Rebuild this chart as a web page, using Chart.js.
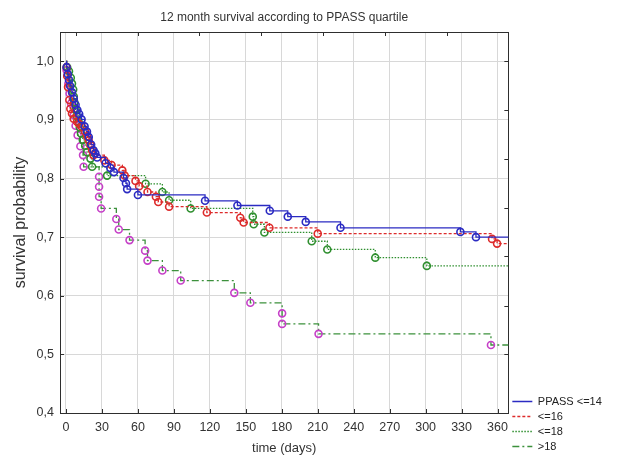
<!DOCTYPE html>
<html>
<head>
<meta charset="utf-8">
<title>12 month survival according to PPASS quartile</title>
<script src="https://cdn.jsdelivr.net/npm/chart.js@4.4.0/dist/chart.umd.min.js"></script>
<style>
  html, body { margin: 0; padding: 0; background: #fff; }
  canvas { display: block; }
</style>
</head>
<body>
<canvas id="km" width="620" height="456"></canvas>
<script>
// Kaplan-Meier steps: event day and survival after that event.
// First point is the start (day 0, S=1), last point is end of follow-up (no marker).
const groupLabels = ['PPASS <=14', '<=16', '<=18', '>18'];

const daysLe14 = [0, 0.5, 1.5, 2.5, 3.5, 5, 6.5, 8, 9.5, 11, 13, 15.5, 17.5, 19, 21, 23, 24.5, 26, 33, 37, 40, 48, 50, 51, 60, 116, 143, 170, 185, 200, 229, 329, 342, 372];
const survLe14 = [1.0, 0.990, 0.978, 0.968, 0.958, 0.947, 0.936, 0.926, 0.917, 0.910, 0.901, 0.889, 0.880, 0.871, 0.858, 0.848, 0.843, 0.836, 0.826, 0.818, 0.811, 0.801, 0.792, 0.782, 0.772, 0.762, 0.754, 0.745, 0.735, 0.726, 0.716, 0.709, 0.700, 0.700];

const daysLe16 = [0, 0.5, 1, 1.7, 2.8, 3.6, 5, 6.4, 9.2, 11, 13.4, 16, 17.6, 19, 20.4, 21.8, 23, 32, 38, 47, 49, 58, 61, 68, 75, 77, 86, 117.5, 145.4, 148.2, 169.7, 210, 355.4, 359.6, 372];
const survLe16 = [1.0, 0.990, 0.975, 0.956, 0.934, 0.919, 0.911, 0.902, 0.897, 0.893, 0.888, 0.880, 0.872, 0.865, 0.857, 0.848, 0.840, 0.831, 0.823, 0.814, 0.805, 0.796, 0.787, 0.777, 0.769, 0.760, 0.752, 0.742, 0.733, 0.725, 0.716, 0.706, 0.697, 0.689, 0.689];

const daysLe18 = [0, 1, 2.5, 4, 5, 6, 6.5, 7, 8, 9, 10.5, 11.5, 12.5, 14, 16, 17.6, 20.4, 21.8, 34.3, 66.4, 80.4, 86, 104, 155.8, 156.6, 165.5, 205, 218, 258, 301, 372];
const survLe18 = [1.0, 0.990, 0.983, 0.972, 0.962, 0.952, 0.940, 0.930, 0.918, 0.907, 0.897, 0.887, 0.877, 0.866, 0.856, 0.845, 0.834, 0.820, 0.805, 0.791, 0.777, 0.763, 0.749, 0.735, 0.722, 0.708, 0.693, 0.679, 0.665, 0.651, 0.651];

const daysGt18 = [0, 0.5, 2, 3, 4.2, 6.4, 8, 9.7, 12, 14.2, 14.7, 27.6, 27.6, 27.6, 29.3, 42, 44, 53, 66, 68, 80.4, 95.7, 140.4, 153.8, 180.3, 180.3, 210.7, 354.5, 372];
const survGt18 = [1.0, 0.985, 0.962, 0.945, 0.928, 0.908, 0.890, 0.874, 0.855, 0.840, 0.820, 0.803, 0.786, 0.769, 0.749, 0.731, 0.713, 0.695, 0.677, 0.660, 0.643, 0.626, 0.605, 0.588, 0.570, 0.552, 0.535, 0.516, 0.516];

const xTicks = [0, 30, 60, 90, 120, 150, 180, 210, 240, 270, 300, 330, 360];
const yTicks = [0.4, 0.5, 0.6, 0.7, 0.8, 0.9, 1.0];
const topTicks = [8, 60, 111, 163, 214, 266, 318];
const rightTicks = [1.0, 0.917, 0.833, 0.75, 0.667, 0.583, 0.5];

const fontFamily = '"Liberation Sans", Arial, sans-serif';
const frameColor = '#2e2e2e';
const gridColor = '#d8d8d8';
const textColor = '#333';

function kmSet(label, days, surv, lineColor, markColor, dash) {
  const n = days.length;
  return {
    label: label,
    data: days.map((d, i) => ({ x: d, y: surv[i] })),
    borderColor: lineColor,
    borderWidth: 1.3,
    borderDash: dash,
    stepped: 'before',
    fill: false,
    pointStyle: 'circle',
    pointRadius: ctx => (ctx.dataIndex === 0 || ctx.dataIndex === n - 1) ? 0 : 3.5,
    pointHoverRadius: 0,
    pointBorderColor: markColor,
    pointBackgroundColor: 'rgba(0,0,0,0)',
    pointBorderWidth: 1.6
  };
}

// tick marks on the inside of the frame, like the original plot
const innerTicks = {
  id: 'innerTicks',
  afterDraw(chart) {
    const { ctx, chartArea: a, scales } = chart;
    ctx.save();
    ctx.strokeStyle = frameColor;
    ctx.lineWidth = 1;
    ctx.beginPath();
    scales.x.ticks.forEach(t => {
      const p = Math.round(scales.x.getPixelForValue(t.value)) + 0.5;
      ctx.moveTo(p, a.bottom); ctx.lineTo(p, a.bottom - 4);
    });
    scales.x2.ticks.forEach(t => {
      const p = Math.round(scales.x2.getPixelForValue(t.value)) + 0.5;
      ctx.moveTo(p, a.top); ctx.lineTo(p, a.top + 4);
    });
    scales.y.ticks.forEach(t => {
      const p = Math.round(scales.y.getPixelForValue(t.value)) + 0.5;
      ctx.moveTo(a.left, p); ctx.lineTo(a.left + 4, p);
    });
    scales.y2.ticks.forEach(t => {
      const p = Math.round(scales.y2.getPixelForValue(t.value)) + 0.5;
      ctx.moveTo(a.right, p); ctx.lineTo(a.right - 4, p);
    });
    ctx.stroke();
    ctx.restore();
  }
};

new Chart(document.getElementById('km'), {
  type: 'line',
  data: {
    datasets: [
      kmSet(groupLabels[0], daysLe14, survLe14, '#2b2bc2', '#2b2bc2', []),
      kmSet(groupLabels[1], daysLe16, survLe16, '#dd2b2b', '#dd2b2b', [3, 2]),
      kmSet(groupLabels[2], daysLe18, survLe18, '#2f8f2f', '#2f8f2f', [1.5, 1.5]),
      kmSet(groupLabels[3], daysGt18, survGt18, '#3c913c', '#c640c8', [7, 3, 2, 3])
    ]
  },
  options: {
    responsive: false,
    animation: false,
    layout: { padding: { left: 0, right: 10, top: 0, bottom: 0 } },
    scales: {
      x: {
        type: 'linear', position: 'bottom', min: -5, max: 369,
        afterBuildTicks: s => { s.ticks = xTicks.map(v => ({ value: v })); },
        afterFit: s => { s.height = 43; },
        grid: { color: gridColor, drawTicks: false },
        border: { color: frameColor },
        ticks: { color: textColor, font: { family: fontFamily, size: 12.5 }, padding: 7, maxRotation: 0, autoSkip: false },
        title: { display: true, text: 'time (days)', color: textColor, font: { family: fontFamily, size: 13 }, padding: { top: 0, bottom: 0 } }
      },
      x2: {
        type: 'linear', position: 'top', min: -5, max: 369,
        afterBuildTicks: s => { s.ticks = topTicks.map(v => ({ value: v })); },
        afterFit: s => { s.height = 32; },
        grid: { drawOnChartArea: false, drawTicks: false },
        border: { color: frameColor },
        ticks: { display: false },
        title: { display: true, text: '12 month survival according to PPASS quartile', color: textColor, font: { family: fontFamily, size: 12 }, padding: { top: 10, bottom: 8 } }
      },
      y: {
        type: 'linear', position: 'left', min: 0.4, max: 1.05,
        afterBuildTicks: s => { s.ticks = yTicks.map(v => ({ value: v })); },
        afterFit: s => { s.width = 60; },
        grid: { color: gridColor, drawTicks: false },
        border: { color: frameColor },
        ticks: { color: textColor, font: { family: fontFamily, size: 12.5 }, padding: 6, callback: v => v.toFixed(1).replace('.', ',') },
        title: { display: true, text: 'survival probability', color: textColor, font: { family: fontFamily, size: 16 }, padding: { top: 11, bottom: 0 } }
      },
      y2: {
        type: 'linear', position: 'right', min: 0.4, max: 1.05,
        afterBuildTicks: s => { s.ticks = rightTicks.map(v => ({ value: v })); },
        afterFit: s => { s.width = 0; },
        grid: { drawOnChartArea: false, drawTicks: false },
        border: { color: frameColor },
        ticks: { display: false }
      }
    },
    plugins: {
      tooltip: { enabled: false },
      legend: {
        position: 'right',
        align: 'end',
        labels: {
          usePointStyle: true,
          pointStyle: 'line',
          pointStyleWidth: 20,
          boxHeight: 11,
          padding: 4,
          color: '#222',
          font: { family: fontFamily, size: 11 },
          generateLabels: chart => chart.data.datasets.map((ds, i) => ({
            text: ds.label,
            datasetIndex: i,
            strokeStyle: ds.borderColor,
            fillStyle: ds.borderColor,
            lineWidth: 1.5,
            lineDash: ds.borderDash,
            pointStyle: 'line',
            fontColor: '#222',
            hidden: false
          }))
        }
      }
    }
  },
  plugins: [innerTicks]
});
</script>
</body>
</html>
